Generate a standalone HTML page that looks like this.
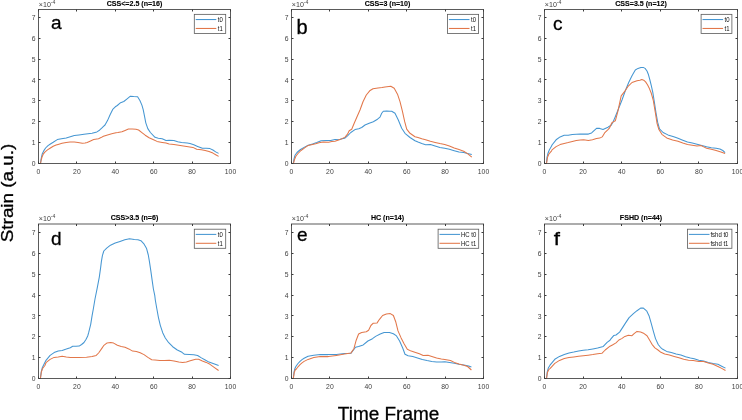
<!DOCTYPE html><html><head><meta charset="utf-8"><style>html,body{margin:0;padding:0;background:#fff;}svg{display:block;}text{font-family:"Liberation Sans",Arial,sans-serif;}</style></head><body>
<svg width="742" height="420" viewBox="0 0 742 420">
<rect width="742" height="420" fill="#fff"/>
<g><polyline fill="none" stroke="#4596d2" stroke-width="1.05" stroke-linejoin="round" points="40.4,163.6 41,159.6 41.6,156.6 42.3,153.7 43.7,150.9 45.6,148 48,145.6 50.4,144 53.2,142.3 56.1,140.4 57.3,139.6 61.5,138.8 66.2,137.9 70.3,136.7 74.3,135.5 79,134.9 84,134.3 88,133.8 92,133.3 96.9,131.9 99.5,130.2 101.7,128.2 103.5,126.4 105,125 107.5,120.6 110.1,114.7 112.7,109.4 115.3,106.8 117.3,105.5 120.6,102.7 123.8,101.5 127.1,98.9 130.4,96.2 133.7,96.6 137.6,96.8 139.9,100.5 141.9,105.1 143.2,109.7 144.5,116.2 145.8,122.8 147.8,128.6 150.4,132.5 155,137.3 158.3,138.2 162.2,138.7 166,140.4 169.1,140.2 173.9,140.5 177.7,141.7 181.5,142.6 187.2,143.1 190,143.6 193.8,144.8 197.6,146.4 202.4,148.3 206.2,148.3 210,148.6 212.9,150 215.7,151.9 218.6,153.4"/><polyline fill="none" stroke="#e2774a" stroke-width="1.05" stroke-linejoin="round" points="40.5,163.6 41.2,160 42,157 43.2,154.2 45.1,151.8 47.5,149.9 50.4,148 53.2,146.3 56.1,145.1 58.1,144.4 62,143.3 66.2,142.4 70,142.1 74.3,142 78,142.4 82.3,143.2 85,143.1 87.2,142.4 90.5,141 93.7,139.6 98.5,138.7 101,137.6 103.4,136.3 106.7,135.2 110,134.3 112.7,133.6 116,132.7 117.9,132.6 121.9,131.7 125.1,130.4 128.4,129 132.4,129.1 136,129.3 138.6,130 141.9,132.6 145.2,135.2 149.1,137.8 153,139.5 157,141.4 162.2,142.4 166,143.1 169.1,144 173.9,144.5 178.7,145.3 183.4,146 188.2,146.7 192.9,147.4 196.7,149.3 201.4,149.8 205.2,150.5 209,151.5 212.9,153.1 215.7,154.7 218.6,156.4"/><rect x="38.5" y="9.5" width="192" height="154" fill="none" stroke="#5a5a5a" stroke-width="1"/><path d="M38.5 163.5v-2M38.5 9.5v2M76.5 163.5v-2M76.5 9.5v2M115.5 163.5v-2M115.5 9.5v2M153.5 163.5v-2M153.5 9.5v2M192.5 163.5v-2M192.5 9.5v2M230.5 163.5v-2M230.5 9.5v2M38.5 163.5h2M230.5 163.5h-2M38.5 142.5h2M230.5 142.5h-2M38.5 121.5h2M230.5 121.5h-2M38.5 100.5h2M230.5 100.5h-2M38.5 79.5h2M230.5 79.5h-2M38.5 59.5h2M230.5 59.5h-2M38.5 38.5h2M230.5 38.5h-2M38.5 17.5h2M230.5 17.5h-2" stroke="#3a3a3a" stroke-width="1" fill="none"/><text transform="translate(38.5 173.8) scale(0.944 1)" font-size="7.2" fill="#404040" text-anchor="middle">0</text><text transform="translate(76.9 173.8) scale(0.944 1)" font-size="7.2" fill="#404040" text-anchor="middle">20</text><text transform="translate(115.3 173.8) scale(0.944 1)" font-size="7.2" fill="#404040" text-anchor="middle">40</text><text transform="translate(153.7 173.8) scale(0.944 1)" font-size="7.2" fill="#404040" text-anchor="middle">60</text><text transform="translate(192.1 173.8) scale(0.944 1)" font-size="7.2" fill="#404040" text-anchor="middle">80</text><text transform="translate(230.5 173.8) scale(0.944 1)" font-size="7.2" fill="#404040" text-anchor="middle">100</text><text transform="translate(35.5 166.1) scale(0.944 1)" font-size="7.2" fill="#404040" text-anchor="end">0</text><text transform="translate(35.5 145.21) scale(0.944 1)" font-size="7.2" fill="#404040" text-anchor="end">1</text><text transform="translate(35.5 124.32) scale(0.944 1)" font-size="7.2" fill="#404040" text-anchor="end">2</text><text transform="translate(35.5 103.43) scale(0.944 1)" font-size="7.2" fill="#404040" text-anchor="end">3</text><text transform="translate(35.5 82.54) scale(0.944 1)" font-size="7.2" fill="#404040" text-anchor="end">4</text><text transform="translate(35.5 61.65) scale(0.944 1)" font-size="7.2" fill="#404040" text-anchor="end">5</text><text transform="translate(35.5 40.76) scale(0.944 1)" font-size="7.2" fill="#404040" text-anchor="end">6</text><text transform="translate(35.5 19.87) scale(0.944 1)" font-size="7.2" fill="#404040" text-anchor="end">7</text><text x="38.8" y="6.9" font-size="7.1" fill="#404040">&#215;10<tspan font-size="5.1" dy="-3.4">-4</tspan></text><text transform="translate(134.5 5.8) scale(0.91 1)" font-size="7.8" font-weight="bold" fill="#000" stroke="#000" stroke-width="0.12" text-anchor="middle">CSS&lt;=2.5 (n=16)</text><text transform="translate(50.9 29.4) scale(1 1)" font-size="19" fill="#000" stroke="#000" stroke-width="0.3">a</text><rect x="194.3" y="14.35" width="31.4" height="19.1" fill="#fff" stroke="#5a5a5a" stroke-width="0.8"/><path d="M195.7 19.55h20.6" stroke="#4596d2" stroke-width="1.05"/><path d="M195.7 28.45h20.6" stroke="#e2774a" stroke-width="1.05"/><text transform="translate(217.8 21.85) scale(0.92 1)" font-size="6.5" fill="#111">t0</text><text transform="translate(217.8 30.75) scale(0.92 1)" font-size="6.5" fill="#111">t1</text></g>
<g><polyline fill="none" stroke="#4596d2" stroke-width="1.05" stroke-linejoin="round" points="293.3,163.6 294,158.8 295,155.3 297,152.5 300.5,149.5 305,146.9 308.2,145.2 312.5,144.1 316.8,142.5 321.1,140.7 326.4,140.4 330.7,140.6 335,139.6 340,139.2 344.6,138.3 347.5,135.8 350.8,132.5 355,129.6 358.75,128.75 361.7,127.5 365,125 369.2,123.3 373.3,121.7 377.5,119.2 380,117.1 381.7,113.3 383.3,111.25 386.7,110.9 390,111.2 391.7,111.3 395,113.3 398.3,120 401.7,128.3 405,133.3 410,137.5 415,140.8 418,142.1 421.8,143.6 425.6,144.8 430.4,144.6 435.1,146 439.9,147.4 444.7,148.3 449.4,149.3 454.2,150.7 459,152 463.7,152.6 467.5,153.4 471.8,154.5"/><polyline fill="none" stroke="#e2774a" stroke-width="1.05" stroke-linejoin="round" points="293.4,163.6 294.5,159.5 296,156 298,153.5 301,150.5 305,147.6 308.2,145.4 312.5,144.4 315.7,143.8 318.9,142.7 323.2,142 328.6,142.2 331.8,141.6 335,141.25 340,139.6 345,137.1 347.5,134.2 349.2,130.8 351.7,129.2 354.2,123.3 356.7,117.5 360,110 363,101.7 366.3,95 369.7,90.8 373,88.7 378,88 382,87.6 385,87 390.8,86.3 394.2,88.3 397.5,94.2 400,101.7 402.5,111.7 404.7,121.7 406.7,129.2 410,133.3 415,136.7 418,137.4 421.8,138.8 425.6,139.8 430.4,141.2 435.1,142.4 439.9,143.6 444.7,144.5 449.4,146 454.2,147.9 459,149.6 463.7,151.2 467.5,153.6 471.8,157.2"/><rect x="291.5" y="9.5" width="192" height="154" fill="none" stroke="#5a5a5a" stroke-width="1"/><path d="M291.5 163.5v-2M291.5 9.5v2M329.5 163.5v-2M329.5 9.5v2M368.5 163.5v-2M368.5 9.5v2M406.5 163.5v-2M406.5 9.5v2M445.5 163.5v-2M445.5 9.5v2M483.5 163.5v-2M483.5 9.5v2M291.5 163.5h2M483.5 163.5h-2M291.5 142.5h2M483.5 142.5h-2M291.5 121.5h2M483.5 121.5h-2M291.5 100.5h2M483.5 100.5h-2M291.5 79.5h2M483.5 79.5h-2M291.5 59.5h2M483.5 59.5h-2M291.5 38.5h2M483.5 38.5h-2M291.5 17.5h2M483.5 17.5h-2" stroke="#3a3a3a" stroke-width="1" fill="none"/><text transform="translate(291.5 173.8) scale(0.944 1)" font-size="7.2" fill="#404040" text-anchor="middle">0</text><text transform="translate(329.9 173.8) scale(0.944 1)" font-size="7.2" fill="#404040" text-anchor="middle">20</text><text transform="translate(368.3 173.8) scale(0.944 1)" font-size="7.2" fill="#404040" text-anchor="middle">40</text><text transform="translate(406.7 173.8) scale(0.944 1)" font-size="7.2" fill="#404040" text-anchor="middle">60</text><text transform="translate(445.1 173.8) scale(0.944 1)" font-size="7.2" fill="#404040" text-anchor="middle">80</text><text transform="translate(483.5 173.8) scale(0.944 1)" font-size="7.2" fill="#404040" text-anchor="middle">100</text><text transform="translate(288.5 166.1) scale(0.944 1)" font-size="7.2" fill="#404040" text-anchor="end">0</text><text transform="translate(288.5 145.21) scale(0.944 1)" font-size="7.2" fill="#404040" text-anchor="end">1</text><text transform="translate(288.5 124.32) scale(0.944 1)" font-size="7.2" fill="#404040" text-anchor="end">2</text><text transform="translate(288.5 103.43) scale(0.944 1)" font-size="7.2" fill="#404040" text-anchor="end">3</text><text transform="translate(288.5 82.54) scale(0.944 1)" font-size="7.2" fill="#404040" text-anchor="end">4</text><text transform="translate(288.5 61.65) scale(0.944 1)" font-size="7.2" fill="#404040" text-anchor="end">5</text><text transform="translate(288.5 40.76) scale(0.944 1)" font-size="7.2" fill="#404040" text-anchor="end">6</text><text transform="translate(288.5 19.87) scale(0.944 1)" font-size="7.2" fill="#404040" text-anchor="end">7</text><text x="291.8" y="6.9" font-size="7.1" fill="#404040">&#215;10<tspan font-size="5.1" dy="-3.4">-4</tspan></text><text transform="translate(387.5 5.8) scale(0.91 1)" font-size="7.8" font-weight="bold" fill="#000" stroke="#000" stroke-width="0.12" text-anchor="middle">CSS=3 (n=10)</text><text transform="translate(296.5 33.7) scale(1 1)" font-size="20" fill="#000" stroke="#000" stroke-width="0.3">b</text><rect x="447.5" y="14.35" width="31.1" height="19.1" fill="#fff" stroke="#5a5a5a" stroke-width="0.8"/><path d="M448.9 19.55h20.6" stroke="#4596d2" stroke-width="1.05"/><path d="M448.9 28.45h20.6" stroke="#e2774a" stroke-width="1.05"/><text transform="translate(471 21.85) scale(0.92 1)" font-size="6.5" fill="#111">t0</text><text transform="translate(471 30.75) scale(0.92 1)" font-size="6.5" fill="#111">t1</text></g>
<g><polyline fill="none" stroke="#4596d2" stroke-width="1.05" stroke-linejoin="round" points="546.4,163.6 547,157.4 547.9,153.5 549.4,149.8 551.6,146.1 552,145 556.1,139.8 560.1,136.9 564.2,135.3 568.2,135.3 572.3,134.5 580.3,134.1 588.4,134.1 591.6,132.9 596.5,128.4 599.7,128.4 603,129.5 608,127.2 608.5,126.8 611.2,125.2 613.3,121.4 615.3,116.7 618.7,108.3 622,100 625.3,90.8 628.7,82.5 632,75.8 635.3,70 638,68.4 640.9,67.4 643.2,67.4 645.1,68.4 647,71 648.5,74.8 649.9,80 651.3,85.7 652.8,92.4 654.2,101 656,112.9 657.7,122.4 659.5,128.9 663.1,132.5 667.9,134.9 673.8,136.7 678,138.3 682.8,140.2 687.5,142 692.3,143.1 697,144.3 701.8,145.5 706.6,146.7 711.3,147.7 716.1,148.3 719.9,149 722.8,150.5 725.1,152.6"/><polyline fill="none" stroke="#e2774a" stroke-width="1.05" stroke-linejoin="round" points="546.5,163.6 547.5,157.4 549,153.8 551.6,150.9 552,149.9 556.1,146.6 560.1,144.6 564.2,143.4 568.2,142.6 572.3,141.6 576.3,140.6 580.3,140 583.6,139.8 588.4,140.6 592.5,139.8 596.5,138.6 599.7,138.1 602.2,136.9 604.6,132.9 608,129.7 609.6,127.9 611.7,123 613.9,121.4 615.3,120.8 617.8,111.7 621.2,95.8 624.5,91.7 627.8,86.7 632,82.5 637,80.8 639.9,80.2 641.8,79.5 643.7,80.2 645.6,81.9 647.5,84.8 649.4,88.6 651.3,93.3 653.2,100 655.4,112.9 657.1,123.6 658.9,129.5 661.9,134.3 666.7,137.9 672.6,140 678,141.2 682.8,143.1 687.5,144.5 692.3,145.3 697,146 700.9,145.5 703.7,146.9 706.6,148.3 711.3,149.3 716.1,150.5 720.9,151.9 725.1,153.4"/><rect x="544.5" y="9.5" width="193" height="154" fill="none" stroke="#5a5a5a" stroke-width="1"/><path d="M544.5 163.5v-2M544.5 9.5v2M583.5 163.5v-2M583.5 9.5v2M621.5 163.5v-2M621.5 9.5v2M660.5 163.5v-2M660.5 9.5v2M698.5 163.5v-2M698.5 9.5v2M737.5 163.5v-2M737.5 9.5v2M544.5 163.5h2M737.5 163.5h-2M544.5 142.5h2M737.5 142.5h-2M544.5 121.5h2M737.5 121.5h-2M544.5 100.5h2M737.5 100.5h-2M544.5 79.5h2M737.5 79.5h-2M544.5 59.5h2M737.5 59.5h-2M544.5 38.5h2M737.5 38.5h-2M544.5 17.5h2M737.5 17.5h-2" stroke="#3a3a3a" stroke-width="1" fill="none"/><text transform="translate(544.5 173.8) scale(0.944 1)" font-size="7.2" fill="#404040" text-anchor="middle">0</text><text transform="translate(583.1 173.8) scale(0.944 1)" font-size="7.2" fill="#404040" text-anchor="middle">20</text><text transform="translate(621.7 173.8) scale(0.944 1)" font-size="7.2" fill="#404040" text-anchor="middle">40</text><text transform="translate(660.3 173.8) scale(0.944 1)" font-size="7.2" fill="#404040" text-anchor="middle">60</text><text transform="translate(698.9 173.8) scale(0.944 1)" font-size="7.2" fill="#404040" text-anchor="middle">80</text><text transform="translate(737.5 173.8) scale(0.944 1)" font-size="7.2" fill="#404040" text-anchor="middle">100</text><text transform="translate(541.5 166.1) scale(0.944 1)" font-size="7.2" fill="#404040" text-anchor="end">0</text><text transform="translate(541.5 145.21) scale(0.944 1)" font-size="7.2" fill="#404040" text-anchor="end">1</text><text transform="translate(541.5 124.32) scale(0.944 1)" font-size="7.2" fill="#404040" text-anchor="end">2</text><text transform="translate(541.5 103.43) scale(0.944 1)" font-size="7.2" fill="#404040" text-anchor="end">3</text><text transform="translate(541.5 82.54) scale(0.944 1)" font-size="7.2" fill="#404040" text-anchor="end">4</text><text transform="translate(541.5 61.65) scale(0.944 1)" font-size="7.2" fill="#404040" text-anchor="end">5</text><text transform="translate(541.5 40.76) scale(0.944 1)" font-size="7.2" fill="#404040" text-anchor="end">6</text><text transform="translate(541.5 19.87) scale(0.944 1)" font-size="7.2" fill="#404040" text-anchor="end">7</text><text x="544.8" y="6.9" font-size="7.1" fill="#404040">&#215;10<tspan font-size="5.1" dy="-3.4">-4</tspan></text><text transform="translate(641 5.8) scale(0.91 1)" font-size="7.8" font-weight="bold" fill="#000" stroke="#000" stroke-width="0.12" text-anchor="middle">CSS=3.5 (n=12)</text><text transform="translate(552.9 29.6) scale(1 1)" font-size="19" fill="#000" stroke="#000" stroke-width="0.3">c</text><rect x="701.1" y="14.35" width="30.8" height="19.1" fill="#fff" stroke="#5a5a5a" stroke-width="0.8"/><path d="M702.5 19.55h20.6" stroke="#4596d2" stroke-width="1.05"/><path d="M702.5 28.45h20.6" stroke="#e2774a" stroke-width="1.05"/><text transform="translate(724.6 21.85) scale(0.92 1)" font-size="6.5" fill="#111">t0</text><text transform="translate(724.6 30.75) scale(0.92 1)" font-size="6.5" fill="#111">t1</text></g>
<g><polyline fill="none" stroke="#4596d2" stroke-width="1.05" stroke-linejoin="round" points="40.4,378.2 41.2,372.2 42.3,367.7 44.1,364 46,360.3 50.1,355.4 54.1,352.6 58.2,351 62.2,350.4 66.3,349.1 70.3,347.7 72.7,346.3 76,346.3 79.2,346.1 81.6,344.5 84,342.5 86.1,339.2 87.7,336 88.6,332.9 90.7,324.3 92.1,315.7 93.4,308.5 95,299 97.1,288.6 99.3,277.1 100.7,267.1 101.4,261.4 102.4,255.7 103.8,251 106.7,248.1 110.5,245.2 115.2,243.1 120,241.4 124.8,239.7 129.5,238.8 134.3,239.5 138,239.7 140.9,240.7 143.7,243.6 146.6,248.6 148.3,255 149.4,261.4 150.9,271.4 152.3,281.4 153.4,289 154.8,295.7 155.3,300 156.7,308 158.4,317.3 160.3,325.3 162.7,332.7 165.3,338 168.7,342.7 172.7,346.7 177.3,350 182,352.3 184.5,354.3 189.3,354.6 193.8,354.8 197.6,355.5 201.4,357.9 205.2,360 209,362.1 213.8,363.8 218.6,365.5"/><polyline fill="none" stroke="#e2774a" stroke-width="1.05" stroke-linejoin="round" points="40.5,378.2 41.3,372.2 42.6,368.5 44.9,365.5 46,362.7 50.1,359.4 54.1,357.4 58.2,356.9 62.2,356.2 66.3,356.9 70.3,357.4 78.4,357.4 86.5,357.2 92.1,356.6 96.2,355.4 98.6,353 102,348.1 103.6,345.7 107.1,342.9 110.7,342.4 113.6,343.1 117.4,345.2 121.2,346.4 125,347.3 128.8,348.9 132.6,351.1 136.4,351.4 140.2,352.7 144,354.6 147.9,357.4 151.7,359.7 155,360 159.8,360.5 164.5,360.5 169.3,360.2 174,360.9 178.8,362.1 182.6,362.6 186.4,361.9 190.2,360.7 192.9,360 195.7,359.3 198.6,359.3 202.4,360.9 206.2,362.4 210,364.3 213.8,367.1 218.6,370.5"/><rect x="38.5" y="224" width="192" height="154.5" fill="none" stroke="#5a5a5a" stroke-width="1"/><path d="M38.5 378.5v-2M38.5 224v2M76.5 378.5v-2M76.5 224v2M115.5 378.5v-2M115.5 224v2M153.5 378.5v-2M153.5 224v2M192.5 378.5v-2M192.5 224v2M230.5 378.5v-2M230.5 224v2M38.5 378.5h2M230.5 378.5h-2M38.5 357.5h2M230.5 357.5h-2M38.5 336.5h2M230.5 336.5h-2M38.5 315.5h2M230.5 315.5h-2M38.5 295.5h2M230.5 295.5h-2M38.5 274.5h2M230.5 274.5h-2M38.5 253.5h2M230.5 253.5h-2M38.5 232.5h2M230.5 232.5h-2" stroke="#3a3a3a" stroke-width="1" fill="none"/><text transform="translate(38.5 388.8) scale(0.944 1)" font-size="7.2" fill="#404040" text-anchor="middle">0</text><text transform="translate(76.9 388.8) scale(0.944 1)" font-size="7.2" fill="#404040" text-anchor="middle">20</text><text transform="translate(115.3 388.8) scale(0.944 1)" font-size="7.2" fill="#404040" text-anchor="middle">40</text><text transform="translate(153.7 388.8) scale(0.944 1)" font-size="7.2" fill="#404040" text-anchor="middle">60</text><text transform="translate(192.1 388.8) scale(0.944 1)" font-size="7.2" fill="#404040" text-anchor="middle">80</text><text transform="translate(230.5 388.8) scale(0.944 1)" font-size="7.2" fill="#404040" text-anchor="middle">100</text><text transform="translate(35.5 381.1) scale(0.944 1)" font-size="7.2" fill="#404040" text-anchor="end">0</text><text transform="translate(35.5 360.26) scale(0.944 1)" font-size="7.2" fill="#404040" text-anchor="end">1</text><text transform="translate(35.5 339.42) scale(0.944 1)" font-size="7.2" fill="#404040" text-anchor="end">2</text><text transform="translate(35.5 318.58) scale(0.944 1)" font-size="7.2" fill="#404040" text-anchor="end">3</text><text transform="translate(35.5 297.74) scale(0.944 1)" font-size="7.2" fill="#404040" text-anchor="end">4</text><text transform="translate(35.5 276.9) scale(0.944 1)" font-size="7.2" fill="#404040" text-anchor="end">5</text><text transform="translate(35.5 256.06) scale(0.944 1)" font-size="7.2" fill="#404040" text-anchor="end">6</text><text transform="translate(35.5 235.22) scale(0.944 1)" font-size="7.2" fill="#404040" text-anchor="end">7</text><text x="38.8" y="221.4" font-size="7.1" fill="#404040">&#215;10<tspan font-size="5.1" dy="-3.4">-4</tspan></text><text transform="translate(134.5 220.3) scale(0.91 1)" font-size="7.8" font-weight="bold" fill="#000" stroke="#000" stroke-width="0.12" text-anchor="middle">CSS&gt;3.5 (n=6)</text><text transform="translate(50.9 244.6) scale(1 1)" font-size="19" fill="#000" stroke="#000" stroke-width="0.3">d</text><rect x="194.3" y="229.2" width="31.4" height="19.1" fill="#fff" stroke="#5a5a5a" stroke-width="0.8"/><path d="M195.7 234.4h20.6" stroke="#4596d2" stroke-width="1.05"/><path d="M195.7 243.3h20.6" stroke="#e2774a" stroke-width="1.05"/><text transform="translate(217.8 236.7) scale(0.92 1)" font-size="6.5" fill="#111">t0</text><text transform="translate(217.8 245.6) scale(0.92 1)" font-size="6.5" fill="#111">t1</text></g>
<g><polyline fill="none" stroke="#4596d2" stroke-width="1.05" stroke-linejoin="round" points="293.3,378.2 294,372.2 294.9,368.5 296,366.3 298,363.5 300,361.4 302,359.6 304.1,358.2 308.1,356.2 313.8,355.2 320.3,354.6 328.3,354.6 336.4,354.4 344.5,353.6 351,353.3 355.5,347.2 358.6,346.4 363.2,344.9 367.9,341 372.5,338.7 375.6,336.4 380.2,334 384.1,332.5 389.5,332.5 393.4,333.7 396.5,335.9 399.6,341 402.7,348 405,354.2 408.1,355.7 412.8,356.6 417.5,357.9 422.3,359.5 427,360.5 431.8,361.4 436.6,361.9 441.3,361.9 444.8,361.7 449.5,362.4 454.3,363.3 459,364.3 463.8,365 468.6,365.9 471.4,367.1"/><polyline fill="none" stroke="#e2774a" stroke-width="1.05" stroke-linejoin="round" points="293.4,378.2 294.3,372.2 295.6,369.2 296,369.5 298,366.8 300,364.7 302,362.9 304.1,361.4 308.1,359.4 313.8,357.6 320.3,356.6 328.3,356.6 336.4,355.4 344.5,354.1 351,352.9 353.9,348.7 356.2,340.2 358.6,334 361.7,332.5 366.3,331.7 368.6,330.2 370.9,325.5 373.3,323.2 377.1,322.9 379.5,319.3 382.6,315.5 386.4,313.9 390.3,313.6 393.4,315.5 395.7,321.7 398,330.9 401.1,337.9 404.2,344.1 407.3,349.2 411.2,351.1 415.6,352.4 419.4,353.8 423.2,355.4 428,355.2 431.8,356.4 436.6,357.9 441.3,359 444.8,359.5 450.5,360.5 454.3,362.4 459,364 463.8,365.2 467.6,366.5 471.4,370"/><rect x="291.5" y="224" width="192" height="154.5" fill="none" stroke="#5a5a5a" stroke-width="1"/><path d="M291.5 378.5v-2M291.5 224v2M329.5 378.5v-2M329.5 224v2M368.5 378.5v-2M368.5 224v2M406.5 378.5v-2M406.5 224v2M445.5 378.5v-2M445.5 224v2M483.5 378.5v-2M483.5 224v2M291.5 378.5h2M483.5 378.5h-2M291.5 357.5h2M483.5 357.5h-2M291.5 336.5h2M483.5 336.5h-2M291.5 315.5h2M483.5 315.5h-2M291.5 295.5h2M483.5 295.5h-2M291.5 274.5h2M483.5 274.5h-2M291.5 253.5h2M483.5 253.5h-2M291.5 232.5h2M483.5 232.5h-2" stroke="#3a3a3a" stroke-width="1" fill="none"/><text transform="translate(291.5 388.8) scale(0.944 1)" font-size="7.2" fill="#404040" text-anchor="middle">0</text><text transform="translate(329.9 388.8) scale(0.944 1)" font-size="7.2" fill="#404040" text-anchor="middle">20</text><text transform="translate(368.3 388.8) scale(0.944 1)" font-size="7.2" fill="#404040" text-anchor="middle">40</text><text transform="translate(406.7 388.8) scale(0.944 1)" font-size="7.2" fill="#404040" text-anchor="middle">60</text><text transform="translate(445.1 388.8) scale(0.944 1)" font-size="7.2" fill="#404040" text-anchor="middle">80</text><text transform="translate(483.5 388.8) scale(0.944 1)" font-size="7.2" fill="#404040" text-anchor="middle">100</text><text transform="translate(288.5 381.1) scale(0.944 1)" font-size="7.2" fill="#404040" text-anchor="end">0</text><text transform="translate(288.5 360.26) scale(0.944 1)" font-size="7.2" fill="#404040" text-anchor="end">1</text><text transform="translate(288.5 339.42) scale(0.944 1)" font-size="7.2" fill="#404040" text-anchor="end">2</text><text transform="translate(288.5 318.58) scale(0.944 1)" font-size="7.2" fill="#404040" text-anchor="end">3</text><text transform="translate(288.5 297.74) scale(0.944 1)" font-size="7.2" fill="#404040" text-anchor="end">4</text><text transform="translate(288.5 276.9) scale(0.944 1)" font-size="7.2" fill="#404040" text-anchor="end">5</text><text transform="translate(288.5 256.06) scale(0.944 1)" font-size="7.2" fill="#404040" text-anchor="end">6</text><text transform="translate(288.5 235.22) scale(0.944 1)" font-size="7.2" fill="#404040" text-anchor="end">7</text><text x="291.8" y="221.4" font-size="7.1" fill="#404040">&#215;10<tspan font-size="5.1" dy="-3.4">-4</tspan></text><text transform="translate(387.5 220.3) scale(0.91 1)" font-size="7.8" font-weight="bold" fill="#000" stroke="#000" stroke-width="0.12" text-anchor="middle">HC (n=14)</text><text transform="translate(297 241.1) scale(1 1)" font-size="19" fill="#000" stroke="#000" stroke-width="0.3">e</text><rect x="438.1" y="229.2" width="40.6" height="19.1" fill="#fff" stroke="#5a5a5a" stroke-width="0.8"/><path d="M439.5 234.4h20.6" stroke="#4596d2" stroke-width="1.05"/><path d="M439.5 243.3h20.6" stroke="#e2774a" stroke-width="1.05"/><text transform="translate(461.05 236.7) scale(0.92 1)" font-size="6.5" fill="#111">HC t0</text><text transform="translate(461.05 245.6) scale(0.92 1)" font-size="6.5" fill="#111">HC t1</text></g>
<g><polyline fill="none" stroke="#4596d2" stroke-width="1.05" stroke-linejoin="round" points="546.5,378.2 547.2,372.2 548.3,368.1 550,365.2 554.8,359.3 559.5,356.4 564.3,354.4 569,352.9 573.8,352.1 578.6,351.1 583.3,350.3 588.1,349.7 592.9,348.9 597.6,348.1 603.3,346.4 607.1,342.4 610,340.3 610.3,339.7 613.9,335.4 616,335 619.6,332.1 622.4,327.9 625.6,322.9 629.1,317.6 633.4,313.6 637,310.7 640.6,308.1 643.4,308.1 646.3,310.7 646.6,310.7 649,315.7 651.3,323.6 653.4,331.4 655.5,338.6 658.2,344.5 660.4,347.3 662.8,349.3 666.6,351.4 671.3,352.6 676.1,354 680.9,355 685.6,356.7 690.4,358 694.2,358.8 698.8,360.3 703.6,361.1 708.3,362.4 713.1,363.6 717.9,364.3 721.7,366.2 725.5,368.1"/><polyline fill="none" stroke="#e2774a" stroke-width="1.05" stroke-linejoin="round" points="546.6,378.2 547.5,372.2 549,369.2 550,368.6 554.8,363.4 559.5,360.4 564.3,358.6 569,357.6 573.8,356.9 578.6,356.2 583.3,355.7 588.1,355.2 592.9,354.6 597.6,353.8 601.9,353.3 605.2,350 610,346.2 612.4,345 616,342.9 618.9,340 621.7,338.6 624.9,336.4 628.4,335.3 632,335.7 634.1,333.6 637,331.4 640.6,332.1 644.1,333.6 647,335.7 649.1,339.3 652,344.3 654.9,347.9 658,350 660.9,352.3 664.7,354 669.4,355 674.2,356.4 679,357.7 683.7,359.3 688.5,360.2 693.2,360.5 698.8,361.4 703.6,361.4 708.3,362.9 713.1,364.3 717.9,366.5 721.7,368.4 725.5,370.5"/><rect x="544.5" y="224" width="193" height="154.5" fill="none" stroke="#5a5a5a" stroke-width="1"/><path d="M544.5 378.5v-2M544.5 224v2M583.5 378.5v-2M583.5 224v2M621.5 378.5v-2M621.5 224v2M660.5 378.5v-2M660.5 224v2M698.5 378.5v-2M698.5 224v2M737.5 378.5v-2M737.5 224v2M544.5 378.5h2M737.5 378.5h-2M544.5 357.5h2M737.5 357.5h-2M544.5 336.5h2M737.5 336.5h-2M544.5 315.5h2M737.5 315.5h-2M544.5 295.5h2M737.5 295.5h-2M544.5 274.5h2M737.5 274.5h-2M544.5 253.5h2M737.5 253.5h-2M544.5 232.5h2M737.5 232.5h-2" stroke="#3a3a3a" stroke-width="1" fill="none"/><text transform="translate(544.5 388.8) scale(0.944 1)" font-size="7.2" fill="#404040" text-anchor="middle">0</text><text transform="translate(583.1 388.8) scale(0.944 1)" font-size="7.2" fill="#404040" text-anchor="middle">20</text><text transform="translate(621.7 388.8) scale(0.944 1)" font-size="7.2" fill="#404040" text-anchor="middle">40</text><text transform="translate(660.3 388.8) scale(0.944 1)" font-size="7.2" fill="#404040" text-anchor="middle">60</text><text transform="translate(698.9 388.8) scale(0.944 1)" font-size="7.2" fill="#404040" text-anchor="middle">80</text><text transform="translate(737.5 388.8) scale(0.944 1)" font-size="7.2" fill="#404040" text-anchor="middle">100</text><text transform="translate(541.5 381.1) scale(0.944 1)" font-size="7.2" fill="#404040" text-anchor="end">0</text><text transform="translate(541.5 360.26) scale(0.944 1)" font-size="7.2" fill="#404040" text-anchor="end">1</text><text transform="translate(541.5 339.42) scale(0.944 1)" font-size="7.2" fill="#404040" text-anchor="end">2</text><text transform="translate(541.5 318.58) scale(0.944 1)" font-size="7.2" fill="#404040" text-anchor="end">3</text><text transform="translate(541.5 297.74) scale(0.944 1)" font-size="7.2" fill="#404040" text-anchor="end">4</text><text transform="translate(541.5 276.9) scale(0.944 1)" font-size="7.2" fill="#404040" text-anchor="end">5</text><text transform="translate(541.5 256.06) scale(0.944 1)" font-size="7.2" fill="#404040" text-anchor="end">6</text><text transform="translate(541.5 235.22) scale(0.944 1)" font-size="7.2" fill="#404040" text-anchor="end">7</text><text x="544.8" y="221.4" font-size="7.1" fill="#404040">&#215;10<tspan font-size="5.1" dy="-3.4">-4</tspan></text><text transform="translate(641 220.3) scale(0.91 1)" font-size="7.8" font-weight="bold" fill="#000" stroke="#000" stroke-width="0.12" text-anchor="middle">FSHD (n=44)</text><text transform="translate(553.7 244.8) scale(1.18 1)" font-size="19" fill="#000" stroke="#000" stroke-width="0.3">f</text><rect x="687.5" y="229.2" width="44.4" height="19.1" fill="#fff" stroke="#5a5a5a" stroke-width="0.8"/><path d="M688.9 234.4h20.6" stroke="#4596d2" stroke-width="1.05"/><path d="M688.9 243.3h20.6" stroke="#e2774a" stroke-width="1.05"/><text transform="translate(710.45 236.7) scale(0.92 1)" font-size="6.5" fill="#111">fshd t0</text><text transform="translate(710.45 245.6) scale(0.92 1)" font-size="6.5" fill="#111">fshd t1</text></g>
<text x="13.3" y="242.2" font-size="17.2" textLength="98.5" lengthAdjust="spacingAndGlyphs" fill="#000" stroke="#000" stroke-width="0.3" transform="rotate(-90 13.3 242.2)">Strain (a.u.)</text>
<text x="337.8" y="419.8" font-size="18.3" textLength="101.5" lengthAdjust="spacingAndGlyphs" fill="#000" stroke="#000" stroke-width="0.3">Time Frame</text>
</svg></body></html>
